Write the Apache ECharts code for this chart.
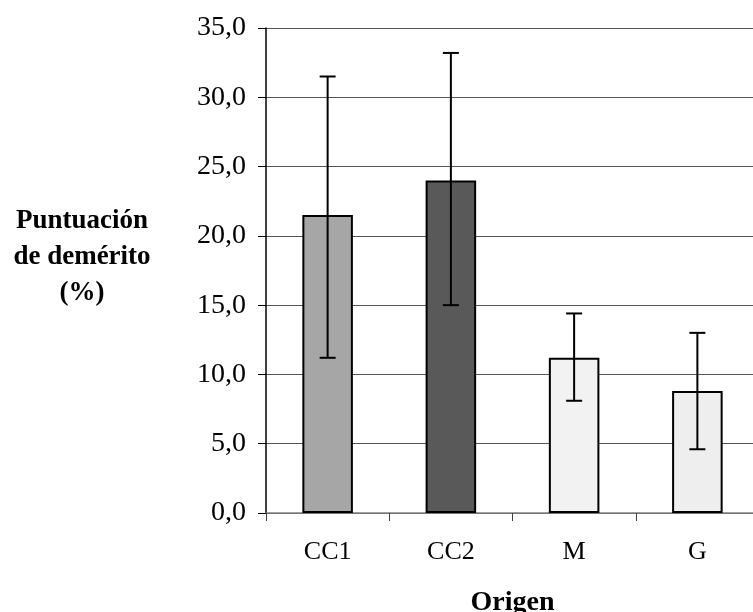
<!DOCTYPE html>
<html>
<head>
<meta charset="utf-8">
<script src="https://cdn.jsdelivr.net/npm/echarts@6/dist/echarts.min.js"></script>
<style>
  html, body { margin: 0; padding: 0; background: #fff; }
  #chart { width: 753px; height: 612px; }
</style>
</head>
<body>
<div id="chart"></div>
<script>
// Demerit score by origin, with error bars
const categories = ['CC1', 'CC2', 'M', 'G'];
const means = [21.5, 24.0, 11.2, 8.8];
const errLow = [11.2, 15.0, 8.1, 4.6];
const errHigh = [31.5, 33.2, 14.4, 13.0];
const barColors = ['#a6a6a6', '#595959', '#f2f2f2', '#eeeeee'];

const serif = 'Liberation Serif';
const chart = echarts.init(document.getElementById('chart'));

chart.setOption({
  animation: false,
  grid: {
    left: 266, top: 28, width: 493, height: 485,
    containLabel: false, outerBoundsMode: 'none'
  },
  xAxis: {
    type: 'category',
    data: categories,
    boundaryGap: true,
    axisLine: { lineStyle: { color: '#808080', width: 1.5 } },
    axisTick: { show: true, length: 8, lineStyle: { color: '#404040', width: 1 } },
    axisLabel: { color: '#000', fontFamily: serif, fontSize: 26, margin: 26 },
    name: 'Origen',
    nameLocation: 'middle',
    nameGap: 76,
    nameTextStyle: { color: '#000', fontFamily: serif, fontSize: 28, fontWeight: 'bold' }
  },
  yAxis: {
    type: 'value',
    min: 0,
    max: 35,
    interval: 5,
    axisLine: { show: true, lineStyle: { color: '#000', width: 1.5 } },
    axisTick: { show: true, length: 8, lineStyle: { color: '#000', width: 1 } },
    axisLabel: {
      color: '#000', fontFamily: serif, fontSize: 28, margin: 20,
      formatter: v => v.toFixed(1).replace('.', ',')
    },
    splitLine: { show: true, lineStyle: { color: '#555', width: 1.2 } }
  },
  graphic: [{
    type: 'text',
    x: 82,
    y: 203,
    style: {
      text: 'Puntuación\nde demérito\n(%)',
      fontFamily: serif,
      fontSize: 27,
      fontWeight: 'bold',
      lineHeight: 36,
      align: 'center',
      verticalAlign: 'top',
      fill: '#000'
    }
  }],
  series: [
    {
      type: 'bar',
      data: means.map((v, i) => ({ value: v, itemStyle: { color: barColors[i] } })),
      barWidth: '41%',
      itemStyle: { borderColor: '#000', borderWidth: 2 },
      z: 2
    },
    {
      type: 'custom',
      data: categories.map((c, i) => [i, errLow[i], errHigh[i]]),
      renderItem: (params, api) => {
        const lo = api.coord([api.value(0), api.value(1)]);
        const hi = api.coord([api.value(0), api.value(2)]);
        const half = 8;
        const style = { stroke: '#000', lineWidth: 2 };
        return {
          type: 'group',
          children: [
            { type: 'line', shape: { x1: hi[0], y1: hi[1], x2: lo[0], y2: lo[1] }, style },
            { type: 'line', shape: { x1: hi[0] - half, y1: hi[1], x2: hi[0] + half, y2: hi[1] }, style },
            { type: 'line', shape: { x1: lo[0] - half, y1: lo[1], x2: lo[0] + half, y2: lo[1] }, style }
          ]
        };
      },
      z: 3
    }
  ]
});
</script>
</body>
</html>
